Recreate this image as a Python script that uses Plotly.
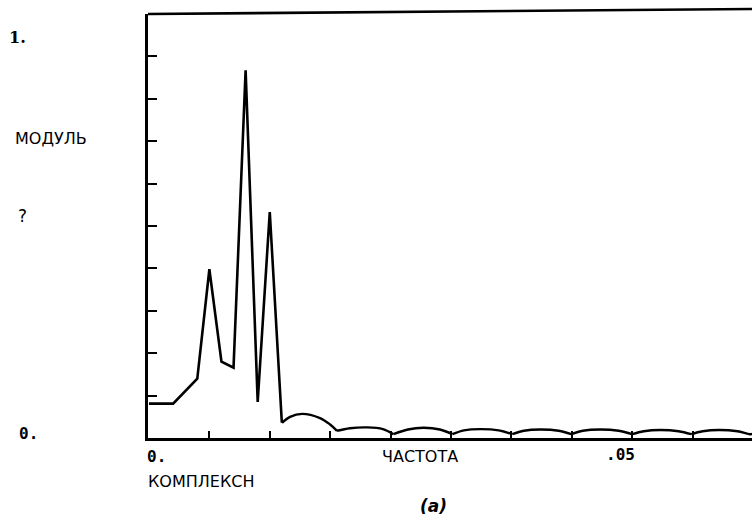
import plotly.graph_objects as go

# Spectrum modulus vs frequency: main lobe region (straight segments)
freq_main = [0.0, 0.0025, 0.005, 0.00625, 0.0075, 0.00875, 0.01, 0.01125, 0.0125, 0.01375]
mod_main = [0.081, 0.081, 0.14, 0.398, 0.18, 0.166, 0.867, 0.085, 0.533, 0.036]

# Side lobes (each arc drawn as its own smooth segment, separated by None)
side_freq = [
    0.01377, 0.0146, 0.01584, 0.0177, 0.01874, 0.01946, None,
    0.01946, 0.0208, 0.0226, 0.0242, 0.0253, None,
    0.0253, 0.0268, 0.0284, 0.0301, 0.0314, None,
    0.0314, 0.0326, 0.0343, 0.0362, 0.0376, None,
    0.0376, 0.0388, 0.0405, 0.0424, 0.0437, None,
    0.0437, 0.0449, 0.0467, 0.0486, 0.0500, None,
    0.0500, 0.0512, 0.0529, 0.0548, 0.0561, None,
    0.0561, 0.0573, 0.0590, 0.0609, 0.0622, 0.0625,
]
side_mod = [
    0.036, 0.050, 0.057, 0.047, 0.032, 0.017, None,
    0.017, 0.023, 0.025, 0.021, 0.009, None,
    0.009, 0.020, 0.024, 0.020, 0.009, None,
    0.009, 0.018, 0.021, 0.018, 0.009, None,
    0.009, 0.017, 0.020, 0.017, 0.009, None,
    0.009, 0.017, 0.020, 0.017, 0.009, None,
    0.009, 0.016, 0.019, 0.016, 0.009, None,
    0.009, 0.016, 0.019, 0.016, 0.009, 0.010,
]

x_ticks = [0.00625 * k for k in range(11)]
y_ticks = [0.1 * k for k in range(1, 10)]

W, H = 752, 522
L, R, T, B = 148, 0, 14, 84
PW, PH = W - L - R, H - T - B


def px(xp, yp):
    """Pixel position -> paper coordinates."""
    return (xp - L) / PW, (H - B - yp) / PH


fig = go.Figure()
fig.add_trace(go.Scatter(x=freq_main, y=mod_main, mode="lines",
                         line=dict(color="black", width=2.6), showlegend=False,
                         hoverinfo="skip"))
fig.add_trace(go.Scatter(x=side_freq, y=side_mod, mode="lines",
                         line=dict(color="black", width=2.4, shape="spline", smoothing=1.0),
                         connectgaps=False, showlegend=False, hoverinfo="skip"))

txt_font = dict(family="DejaVu Sans", size=16, color="black")
num_font = dict(family="DejaVu Sans Mono", size=16, color="black")

labels = [
    ("<b>1.</b>", 17, 38, dict(family="DejaVu Serif", size=16, color="black")),
    ("МОДУЛЬ", 51, 138, txt_font),
    ("?", 22, 216, dict(family="DejaVu Sans", size=17, color="black")),
    ("<b>0.</b>", 28, 433, num_font),
    ("<b>0.</b>", 156, 456, num_font),
    ("ЧАСТОТА", 420, 456, txt_font),
    ("<b>.05</b>", 620, 455, num_font),
    ("КОМПЛЕКСН", 201, 481, txt_font),
    ("<b><i>(a)</i></b>", 433, 506, dict(family="DejaVu Sans", size=17, color="black")),
]
for text, xp, yp, f in labels:
    ax_, ay_ = px(xp, yp)
    fig.add_annotation(x=ax_, y=ay_, xref="paper", yref="paper", text=text,
                       showarrow=False, xanchor="center", yanchor="middle", font=f)

# Top frame edge, slightly tilted as on the original plotter sheet
x0p, y0p = px(L, 14)
x1p, y1p = px(W, 9)
fig.add_shape(type="line", xref="paper", yref="paper", x0=x0p, y0=y0p, x1=x1p, y1=y1p,
              line=dict(color="black", width=2.6))

fig.update_layout(
    width=W, height=H,
    margin=dict(l=L, r=R, t=T, b=B),
    paper_bgcolor="white", plot_bgcolor="white",
    xaxis=dict(range=[-0.0001, 0.0624], showgrid=False, zeroline=False,
               showline=True, linecolor="black", linewidth=2.6,
               tickmode="array", tickvals=x_ticks, ticks="inside", ticklen=7,
               tickwidth=2, tickcolor="black", showticklabels=False),
    yaxis=dict(range=[0, 1], showgrid=False, zeroline=False,
               showline=True, linecolor="black", linewidth=2.6,
               tickmode="array", tickvals=y_ticks, ticks="inside", ticklen=9,
               tickwidth=2, tickcolor="black", showticklabels=False),
)

fig.write_html("out.html")
